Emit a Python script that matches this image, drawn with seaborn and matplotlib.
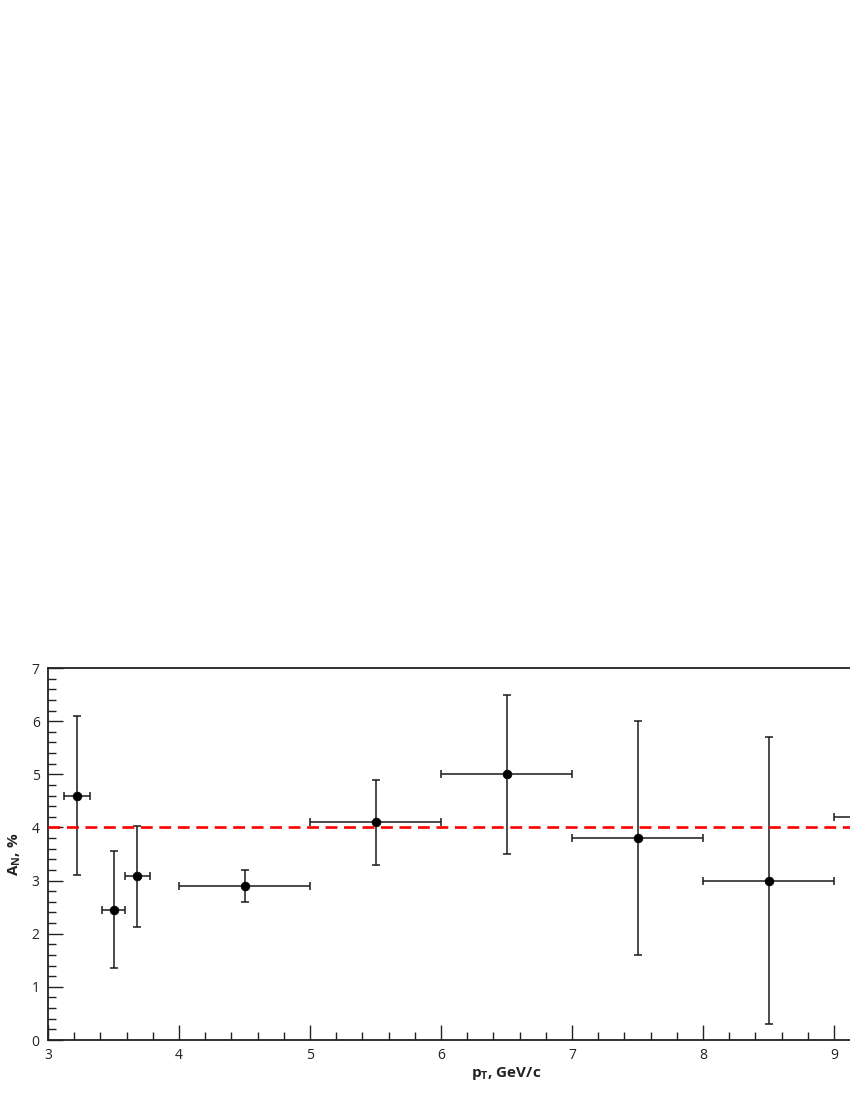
import numpy as np
import pandas as pd
import seaborn as sns
import matplotlib.pyplot as plt
from matplotlib.ticker import MultipleLocator, FixedLocator

# --- data ---
pt = [3.22, 3.50, 3.68, 4.5, 5.5, 6.5, 7.5, 8.5, 9.5]
pt_err = [0.10, 0.09, 0.095, 0.5, 0.5, 0.5, 0.5, 0.5, 0.5]
an = [4.6, 2.45, 3.08, 2.9, 4.1, 5.0, 3.8, 3.0, 4.2]
an_err = [1.5, 1.1, 0.95, 0.3, 0.8, 1.5, 2.2, 2.7, 2.5]
an_mean = 4.0
x_ticks = [3, 4, 5, 6, 7, 8, 9]

df = pd.DataFrame({"pT": pt, "AN": an, "pT_err": pt_err, "AN_err": an_err})

sns.set_style("white")
plt.rcParams["font.family"] = ["Open Sans", "DejaVu Sans"]
plt.rcParams["mathtext.fontset"] = "custom"
plt.rcParams["mathtext.rm"] = "Open Sans"
plt.rcParams["mathtext.bf"] = "Open Sans:bold"

fig = plt.figure(figsize=(8.5, 11), dpi=100)
# axes run past the right edge of the page, as in the reference
ax = fig.add_axes([48 / 850, 60 / 1100, 917 / 850, 372 / 1100])

# --- error bars ---
ax.errorbar(df["pT"], df["AN"], xerr=df["pT_err"], yerr=df["AN_err"],
            fmt="none", ecolor="#1a1a1a", elinewidth=1.1, capsize=2.8,
            capthick=1.1, zorder=2)

# --- points ---
sns.scatterplot(data=df, x="pT", y="AN", color="black", s=40,
                edgecolor="black", linewidth=0.5, zorder=3, ax=ax)

# --- mean line ---
ax.axhline(an_mean, color="#ff0000", linestyle=(0, (4.5, 2.5)),
           linewidth=1.9, zorder=4)

# --- axes styling ---
ax.set_xlim(3, 10)
ax.set_ylim(0, 7)
ax.xaxis.set_major_locator(FixedLocator(x_ticks + [10]))
ax.set_xticklabels([str(t) for t in x_ticks] + [""])
ax.xaxis.set_minor_locator(MultipleLocator(0.2))
ax.yaxis.set_major_locator(MultipleLocator(1))
ax.yaxis.set_minor_locator(MultipleLocator(0.2))
ax.tick_params(which="both", direction="in", bottom=True, left=True,
               top=False, right=False, color="#222222", labelsize=10,
               labelcolor="#222222", width=1)
ax.tick_params(which="major", length=11, pad=6)
ax.tick_params(which="minor", length=6)
for s in ax.spines.values():
    s.set_color("#222222")
    s.set_linewidth(1.3)

ax.set_xlabel(r"p$_\mathbf{T}$, GeV/c", fontsize=11, fontweight="bold",
              color="#222222", labelpad=1)
ax.set_ylabel(r"A$_\mathbf{N}$, %", fontsize=11, fontweight="bold",
              color="#222222", labelpad=6)
ax.grid(False)

fig.savefig("out.png", dpi=100)
